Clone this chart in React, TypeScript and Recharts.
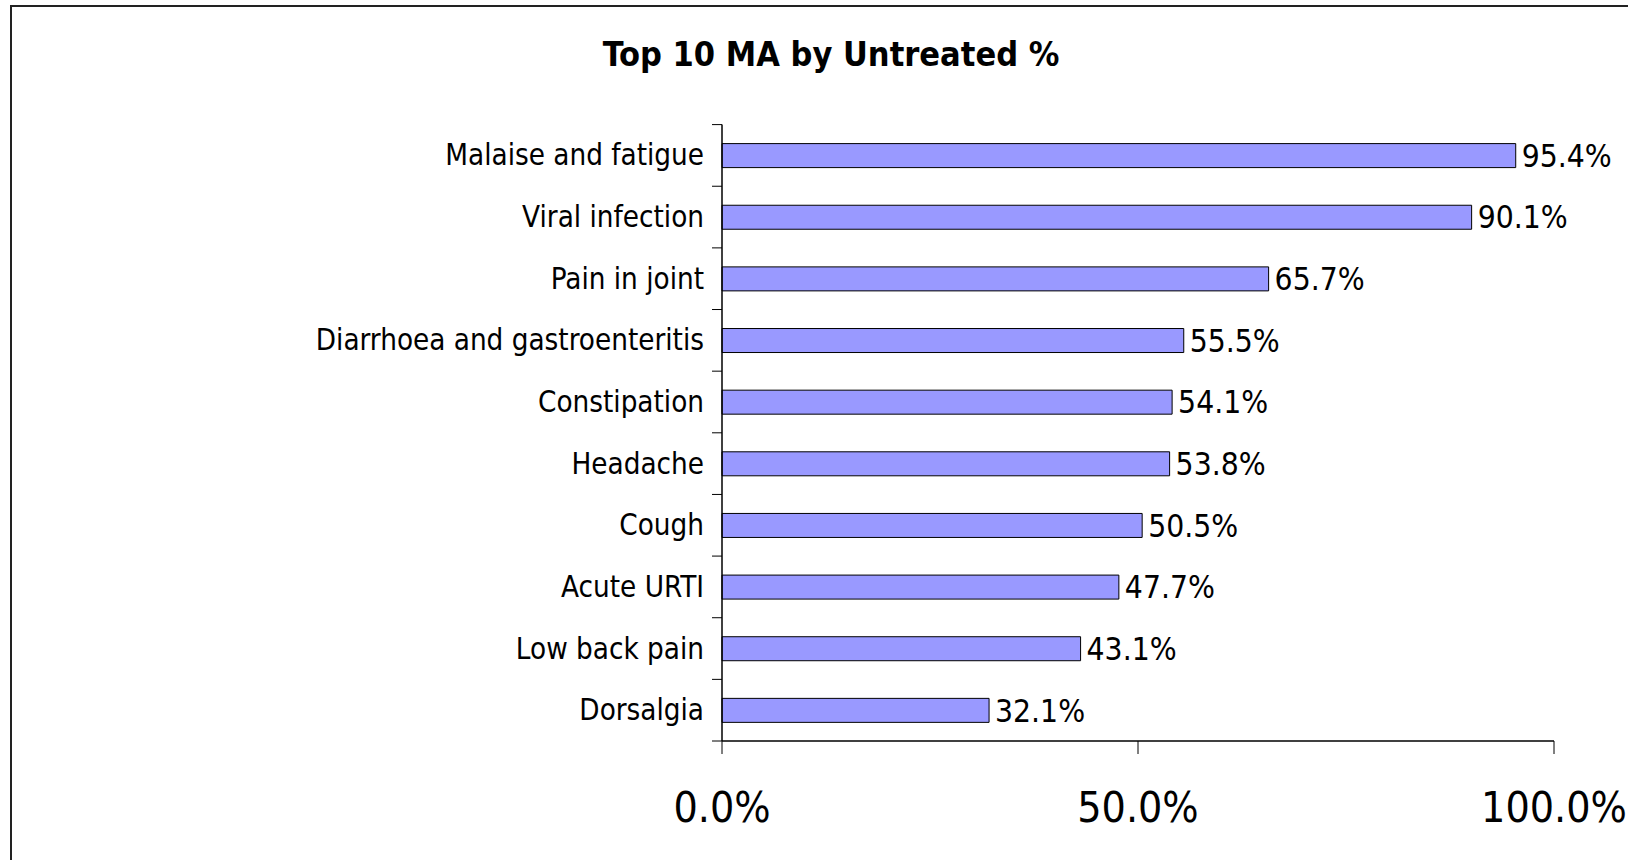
import React from "react";
import { BarChart, Bar, XAxis, YAxis, LabelList } from "recharts";

const categories = [
  "Malaise and fatigue",
  "Viral infection",
  "Pain in joint",
  "Diarrhoea and gastroenteritis",
  "Constipation",
  "Headache",
  "Cough",
  "Acute URTI",
  "Low back pain",
  "Dorsalgia",
];
const untreatedPct = [95.4, 90.1, 65.7, 55.5, 54.1, 53.8, 50.5, 47.7, 43.1, 32.1];
const xTicks = [0, 50, 100];
const title = "Top 10 MA by Untreated %";

const data = categories.map((name, i) => ({ name, value: untreatedPct[i] }));

const FONT = "'DejaVu Sans Condensed', 'DejaVu Sans', Tahoma, sans-serif";
const fmt = (v: number) => `${Number(v).toFixed(1)}%`;

const YTick = (props: any) => {
  const { x, y, payload, index, visibleTicksCount } = props;
  const half =
    payload && typeof payload.offset === "number" && payload.offset > 0
      ? payload.offset
      : (props.height || 616) / (visibleTicksCount || 10) / 2;
  return (
    <g>
      <text
        x={x}
        y={y}
        textAnchor="end"
        dominantBaseline="central"
        fontFamily={FONT}
        fontStretch="condensed"
        fontSize={29.3}
        fill="#000"
      >
        {payload.value}
      </text>
      <line x1={x + 8} x2={x + 18} y1={y - half} y2={y - half} stroke="#000" strokeWidth={1} />
      {index === visibleTicksCount - 1 && (
        <line x1={x + 8} x2={x + 18} y1={y + half} y2={y + half} stroke="#000" strokeWidth={1} />
      )}
    </g>
  );
};

export default function App() {
  return (
    <div
      style={{
        position: "absolute",
        left: 0,
        top: 0,
        width: 1628,
        height: 860,
        overflow: "hidden",
        background: "#fff",
      }}
    >
      <div
        style={{
          position: "absolute",
          left: 10,
          top: 5,
          width: 1700,
          height: 900,
          border: "2px solid #222",
          boxSizing: "border-box",
        }}
      />
      <svg
        width={1628}
        height={100}
        style={{ position: "absolute", left: 0, top: 0 }}
      >
        <text
          x={831}
          y={66}
          textAnchor="middle"
          fontFamily={FONT}
          fontStretch="condensed"
          fontWeight="bold"
          fontSize={34}
          fill="#000"
        >
          {title}
        </text>
      </svg>
      <div style={{ position: "absolute", left: 0, top: 0 }}>
        <BarChart
          width={1628}
          height={860}
          data={data}
          layout="vertical"
          margin={{ top: 124.6, right: 74, bottom: 0, left: 0 }}
          barSize={24}
        >
          <XAxis
            type="number"
            domain={[0, 100]}
            ticks={xTicks}
            tickFormatter={fmt}
            height={119}
            tickSize={13}
            tickMargin={38}
            stroke="#000"
            axisLine={{ stroke: "#000", strokeWidth: 1.5 }}
            tickLine={{ stroke: "#000" }}
            tick={{ fontSize: 42.5, fill: "#000", fontFamily: FONT, fontStretch: "condensed" } as any}
            interval={0}
          />
          <XAxis
            xAxisId="top"
            orientation="top"
            type="number"
            domain={[0, 100]}
            height={0}
            tick={false}
            tickLine={false}
            axisLine={{ stroke: "#a6a6a6", strokeWidth: 1.5 }}
          />
          <YAxis
            type="category"
            dataKey="name"
            width={722}
            tickSize={0}
            tickMargin={18}
            tickLine={false}
            axisLine={{ stroke: "#000", strokeWidth: 1.5 }}
            tick={<YTick />}
            interval={0}
          />
          <YAxis
            yAxisId="right"
            orientation="right"
            type="category"
            dataKey="name"
            width={0}
            tick={false}
            tickLine={false}
            axisLine={{ stroke: "#a6a6a6", strokeWidth: 1.5 }}
          />
          <Bar
            dataKey="value"
            fill="#9999FF"
            stroke="#000"
            strokeWidth={1}
            isAnimationActive={false}
          >
            <LabelList
              dataKey="value"
              position="right"
              offset={6}
              formatter={(v: any) => fmt(v)}
              style={{ fontSize: 31.5, fill: "#000", fontFamily: FONT, fontStretch: "condensed" } as any}
            />
          </Bar>
        </BarChart>
      </div>
    </div>
  );
}
